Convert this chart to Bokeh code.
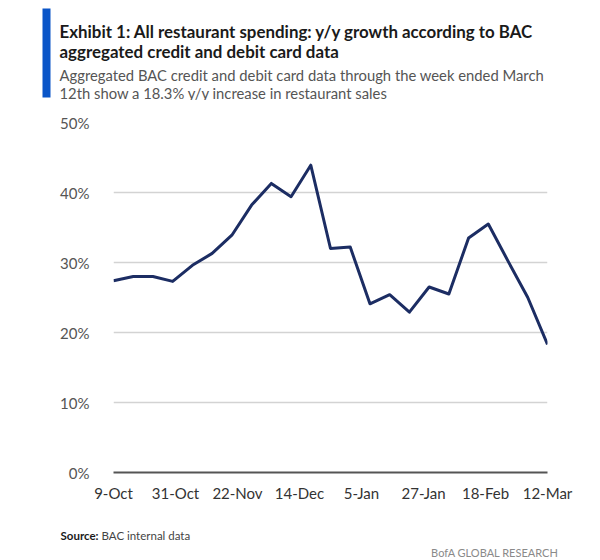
import pandas as pd
from bokeh.plotting import figure
from bokeh.layouts import column
from bokeh.models import Range1d, FixedTicker, Label, BoxAnnotation, ColumnDataSource
from bokeh.embed import file_html
from bokeh.resources import INLINE

# ---- data ----
start_date = "2021-10-09"
end_date = "2022-03-12"
growth = [27.4, 28.0, 28.0, 27.3, 29.6, 31.3, 33.9, 38.2, 41.3, 39.4, 43.9, 32.0,
          32.2, 24.1, 25.4, 22.9, 26.5, 25.5, 33.5, 35.5, 30.2, 25.0, 18.3]
tick_dates = ["2021-10-09", "2021-10-31", "2021-11-22", "2021-12-14",
              "2022-01-05", "2022-01-27", "2022-02-18", "2022-03-12"]
tick_labels = ["9-Oct", "31-Oct", "22-Nov", "14-Dec", "5-Jan", "27-Jan", "18-Feb", "12-Mar"]
y_ticks = [0, 10, 20, 30, 40, 50]
y_tick_labels = ["0%", "10%", "20%", "30%", "40%", "50%"]

title_lines = ["Exhibit 1: All restaurant spending: y/y growth according to BAC",
               "aggregated credit and debit card data"]
subtitle_lines = ["Aggregated  BAC credit and debit card data through the week ended March",
                  "12th show a 18.3% y/y increase in restaurant sales"]
source_label = "Source:"
source_text = "BAC internal data"
brand_text = "BofA GLOBAL RESEARCH"

FONT = "Lato"
W = 600


def blank_fig(h):
    f = figure(width=W, height=h, output_backend="svg", toolbar_location=None,
               x_range=Range1d(0, W), y_range=Range1d(h, 0),
               x_axis_location=None, y_axis_location=None,
               min_border=0, min_border_left=0, min_border_right=0,
               min_border_top=0, min_border_bottom=0, frame_align=False)
    f.outline_line_color = None
    f.xgrid.visible = False
    f.ygrid.visible = False
    return f


# ---- header ----
head = blank_fig(100)
head.add_layout(BoxAnnotation(left=42, right=50, top=8, bottom=97,
                              fill_color="#0a55c8", fill_alpha=1, line_color=None))
for txt, yy in zip(title_lines, [30.7, 50.5]):
    head.add_layout(Label(x=59, y=yy, text=txt, text_font=FONT, text_font_style="bold",
                          text_font_size="16.9px", text_color="#1a1a1a",
                          text_baseline="alphabetic"))
for txt, yy in zip(subtitle_lines, [74, 92]):
    head.add_layout(Label(x=59, y=yy, text=txt, text_font=FONT, text_font_size="14.8px",
                          text_color="#555555", text_baseline="alphabetic"))

# ---- main chart ----
dates = pd.date_range(start_date, end_date, freq="7D")
t0 = pd.Timestamp(start_date)
xs = [(d - t0).days for d in dates]
tick_pos = [(pd.Timestamp(d) - t0).days for d in tick_dates]
src = ColumnDataSource(dict(x=xs, y=growth))

p = figure(width=W, height=408, output_backend="svg", toolbar_location=None,
           x_range=Range1d(0, tick_pos[-1]), y_range=Range1d(0, 50),
           min_border_left=113, min_border_right=53, min_border_top=22, min_border_bottom=36,
           frame_align=False)
p.outline_line_color = None

p.line("x", "y", source=src, line_color="#1c2d63", line_width=3, line_join="round")

p.xaxis.ticker = FixedTicker(ticks=tick_pos)
p.xaxis.major_label_overrides = {t: l for t, l in zip(tick_pos, tick_labels)}
p.xaxis.axis_line_color = "#555555"
p.xaxis.axis_line_width = 2.2
p.xaxis.major_tick_line_color = None
p.xaxis.minor_tick_line_color = None
p.xaxis.major_label_standoff = 5
p.xaxis.major_label_text_font = FONT
p.xaxis.major_label_text_font_size = "15px"
p.xaxis.major_label_text_color = "#333333"

p.yaxis.ticker = FixedTicker(ticks=y_ticks)
p.yaxis.major_label_overrides = {t: l for t, l in zip(y_ticks, y_tick_labels)}
p.yaxis.axis_line_color = None
p.yaxis.major_tick_line_color = None
p.yaxis.minor_tick_line_color = None
p.yaxis.major_label_standoff = 18
p.yaxis.major_label_text_font = FONT
p.yaxis.major_label_text_font_size = "15px"
p.yaxis.major_label_text_color = "#555555"

p.xgrid.grid_line_color = None
p.ygrid.ticker = FixedTicker(ticks=y_ticks[1:])
p.ygrid.grid_line_color = "#d3d3d3"
p.ygrid.grid_line_width = 1.6

# ---- footer ----
foot = blank_fig(50)
foot.add_layout(Label(x=60, y=27, text=source_label, text_font=FONT, text_font_style="bold",
                      text_font_size="11.5px", text_color="#1a1a1a", text_baseline="alphabetic"))
foot.add_layout(Label(x=101, y=27, text=source_text, text_font=FONT, text_font_size="11.5px",
                      text_color="#444444", text_baseline="alphabetic"))
foot.add_layout(Label(x=558, y=44, text=brand_text, text_font=FONT, text_font_size="11px",
                      text_align="right", text_color="#8a8a8a", text_baseline="alphabetic"))

layout = column(head, p, foot, spacing=0)
open("out.html", "w").write(file_html(layout, INLINE))
